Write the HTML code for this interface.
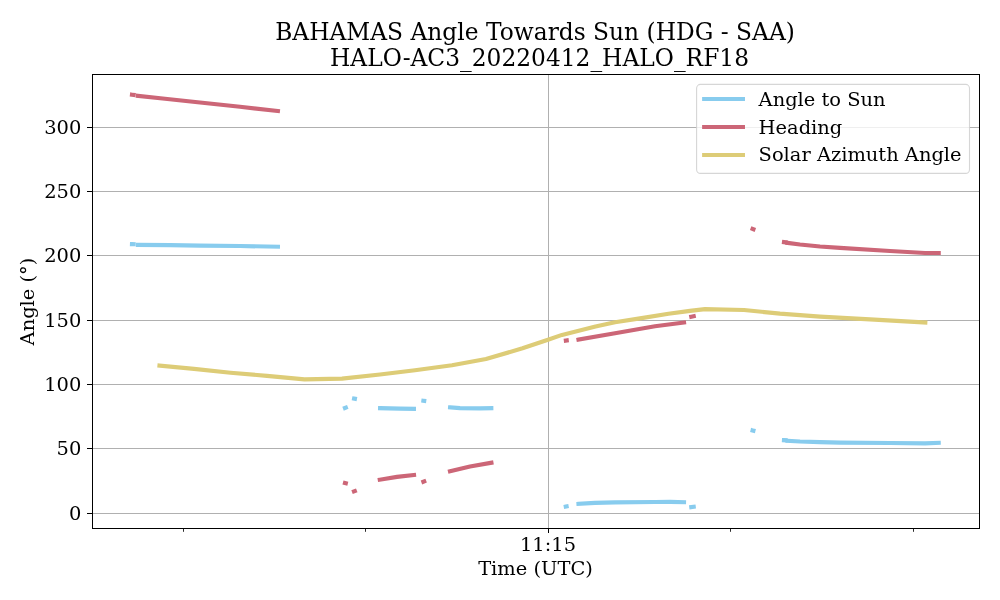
<!DOCTYPE html>
<html lang="en">
<head>
<meta charset="utf-8">
<title>BAHAMAS Angle Towards Sun (HDG - SAA)</title>
<style>
html,body{margin:0;padding:0;background:#ffffff;}
body{width:1000px;height:600px;overflow:hidden;}
svg{display:block;}
text{font-family:"DejaVu Serif","Liberation Serif",serif;fill:#000;}
.t14{font-size:19.44px;}
.t17{font-size:23.33px;}
.grid{stroke:#b0b0b0;stroke-width:1.0;fill:none;shape-rendering:crispEdges;}
.spine{stroke:#000;stroke-width:1.0;fill:none;shape-rendering:crispEdges;}
.tick{stroke:#000;stroke-width:1.0;fill:none;shape-rendering:crispEdges;}
.mtick{stroke:#000;stroke-width:0.83;fill:none;}
.ln{fill:none;stroke-width:4.17;stroke-linecap:square;stroke-linejoin:round;}
.b{stroke:#88ccee;}
.r{stroke:#cc6677;}
.y{stroke:#ddcc77;}
</style>
</head>
<body>
<svg width="1000" height="600" viewBox="0 0 1000 600">
<rect x="0" y="0" width="1000" height="600" fill="#ffffff"/>

<!-- grid -->
<g class="grid">
<line x1="548.5" y1="74.5" x2="548.5" y2="528.5"/>
<line x1="92.5" y1="513.5" x2="979.5" y2="513.5"/>
<line x1="92.5" y1="448.5" x2="979.5" y2="448.5"/>
<line x1="92.5" y1="384.5" x2="979.5" y2="384.5"/>
<line x1="92.5" y1="320.5" x2="979.5" y2="320.5"/>
<line x1="92.5" y1="255.5" x2="979.5" y2="255.5"/>
<line x1="92.5" y1="191.5" x2="979.5" y2="191.5"/>
<line x1="92.5" y1="127.5" x2="979.5" y2="127.5"/>
</g>

<!-- ticks -->
<g class="tick">
<line x1="87" y1="513.5" x2="92.5" y2="513.5"/>
<line x1="87" y1="448.5" x2="92.5" y2="448.5"/>
<line x1="87" y1="384.5" x2="92.5" y2="384.5"/>
<line x1="87" y1="320.5" x2="92.5" y2="320.5"/>
<line x1="87" y1="255.5" x2="92.5" y2="255.5"/>
<line x1="87" y1="191.5" x2="92.5" y2="191.5"/>
<line x1="87" y1="127.5" x2="92.5" y2="127.5"/>
<line x1="548.5" y1="528.5" x2="548.5" y2="533.4"/>
</g>
<g class="mtick">
<line x1="183.5" y1="528.5" x2="183.5" y2="531.8"/>
<line x1="365.5" y1="528.5" x2="365.5" y2="531.8"/>
<line x1="730.5" y1="528.5" x2="730.5" y2="531.8"/>
<line x1="913.5" y1="528.5" x2="913.5" y2="531.8"/>
</g>

<!-- data -->
<g class="ln y">
<polyline points="159.5,365.6 194,368.9 230.5,372.7 267,375.9 304.5,379.4 342,378.6 380,374.5 415,370.2 452,365.2 486,359.0 522.5,348.3 548,339.7 562,334.9 595.5,326.5 615,322.2 640,318.4 668.5,313.8 690,310.9 705,309.1 744,310.0 780,313.6 820,316.6 870,319.4 925.3,322.5"/>
</g>
<g class="ln r">
<polyline points="132.0,94.7 133.6,94.9"/>
<polyline points="137.9,95.85 165,98.7 200,102.5 240,106.8 277.9,111.0"/>
<polyline points="345.0,483.1 345.8,483.3"/>
<polyline points="354.0,491.4 354.8,491.1"/>
<polyline points="379.8,479.7 397,476.9 414,475.0"/>
<polyline points="423.4,481.7 424.2,481.4"/>
<polyline points="450.0,471.3 470,466.5 491.4,462.7"/>
<polyline points="565.9,340.55 566.7,340.45"/>
<polyline points="578.5,339.6 615,333.2 655,326.2 684,322.5"/>
<polyline points="691.3,316.7 693.7,316.2"/>
<polyline points="752.6,228.9 753.4,229.2"/>
<polyline points="784.0,242.1 785.6,242.3"/>
<polyline points="787.5,242.85 800,244.5 820,246.5 840,247.9 890,251.0 925,253.0 938.7,253.0"/>
</g>
<g class="ln b">
<polyline points="132.0,244.15 133.6,244.2"/>
<polyline points="137.9,244.85 170,245.2 200,245.6 240,246.0 277.9,246.7"/>
<polyline points="345.0,407.95 345.8,407.65"/>
<polyline points="354.1,398.6 354.9,398.75"/>
<polyline points="380.1,408.2 400,408.7 413.9,408.9"/>
<polyline points="423.4,400.75 424.2,400.85"/>
<polyline points="450.1,407.4 460,408.1 480,408.3 491.3,408.1"/>
<polyline points="565.8,506.6 566.6,506.45"/>
<polyline points="578.5,503.9 595,502.8 615,502.3 655,502.0 670,501.9 684,502.2"/>
<polyline points="691.3,507.1 693.7,506.8"/>
<polyline points="752.6,430.4 753.4,430.6"/>
<polyline points="784.0,440.2 785.6,440.3"/>
<polyline points="787.5,440.75 800,441.5 820,442.2 840,442.6 890,443.0 925,443.3 938.7,442.8"/>
</g>

<!-- spines -->
<rect class="spine" x="92.5" y="74.5" width="887" height="454"/>

<!-- legend -->
<rect x="696.6" y="84.4" width="272.9" height="89" rx="3.9" ry="3.9" fill="#ffffff" fill-opacity="0.8" stroke="#cccccc" stroke-opacity="0.8" stroke-width="1.11"/>
<g class="ln" style="stroke-linecap:square">
<line class="b" x1="704.2" y1="99" x2="742.9" y2="99"/>
<line class="r" x1="704.2" y1="127" x2="742.9" y2="127"/>
<line class="y" x1="704.2" y1="155" x2="742.9" y2="155"/>
</g>
<text class="t14" x="758.6" y="106">Angle to Sun</text>
<text class="t14" x="758.6" y="134">Heading</text>
<text class="t14" x="758.6" y="160.6">Solar Azimuth Angle</text>

<!-- tick labels -->
<g class="t14" text-anchor="end">
<text x="81.3" y="519.7">0</text>
<text x="81.3" y="454.7">50</text>
<text x="81.3" y="390.7">100</text>
<text x="81.3" y="326.7">150</text>
<text x="81.3" y="261.7">200</text>
<text x="81.3" y="197.7">250</text>
<text x="81.3" y="133.7">300</text>
</g>
<text class="t14" text-anchor="middle" x="548" y="551">11:15</text>

<!-- axis labels -->
<text class="t14" text-anchor="middle" x="535.5" y="575">Time (UTC)</text>
<text class="t14" text-anchor="middle" transform="translate(34,301.5) rotate(-90)">Angle (°)</text>

<!-- title -->
<text class="t17" text-anchor="middle" x="535" y="40">BAHAMAS Angle Towards Sun (HDG - SAA)</text>
<text class="t17" text-anchor="middle" x="539.5" y="66">HALO-AC3_20220412_HALO_RF18</text>
</svg>
</body>
</html>
